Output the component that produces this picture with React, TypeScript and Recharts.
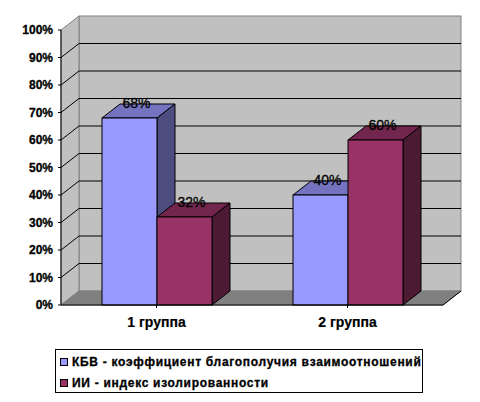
import { Bar, BarChart, Legend, LabelList, ReferenceArea, XAxis, YAxis } from 'recharts';

const categories = ['1 группа', '2 группа'];
const kbvValues = [68, 40];
const iiValues = [32, 60];
const yTicks = [0, 10, 20, 30, 40, 50, 60, 70, 80, 90, 100];

const seriesNames = ['КБВ - коэффициент благополучия взаимоотношений', 'ИИ - индекс изолированности'];

const data = categories.map((name, i) => ({ name, kbv: kbvValues[i], ii: iiValues[i] }));

const DX = 18;
const DY = 14;
const FONT = '"Liberation Sans", Arial, sans-serif';

// back wall, left wall and floor of the 3D box
const Walls = ({ x, y, width, height }: any) => {
  const bottom = y + height;
  const right = x + width;
  return (
    <g>
      <rect x={x + DX} y={y - DY} width={width} height={height} fill="#c0c0c0" stroke="#808080" />
      <polygon
        points={`${x},${y} ${x + DX},${y - DY} ${x + DX},${bottom - DY} ${x},${bottom}`}
        fill="#c0c0c0"
        stroke="#808080"
      />
      <polygon
        points={`${x},${bottom} ${x + DX},${bottom - DY} ${right + DX},${bottom - DY} ${right},${bottom}`}
        fill="#808080"
        stroke="#808080"
      />
      <line x1={right} y1={bottom} x2={right + DX} y2={bottom - DY} stroke="#000" />
    </g>
  );
};

// gridline at the bottom edge of a band, bent round the left wall
const GridBand = ({ x, y, width, height }: any) => {
  const gy = y + height;
  return (
    <g>
      <line x1={x} y1={gy} x2={x + DX} y2={gy - DY} stroke="#000" />
      <line x1={x + DX} y1={gy - DY} x2={x + width + DX} y2={gy - DY} stroke="#000" />
    </g>
  );
};

const box = (front: string, top: string, side: string) => ({ x, y, width, height }: any) => {
  const l = Math.floor(x);
  const r = Math.floor(x + width);
  const b = y + height;
  return (
    <g stroke="#000" strokeWidth={1}>
      <polygon points={`${l},${y} ${l + DX},${y - DY} ${r + DX},${y - DY} ${r},${y}`} fill={top} />
      <polygon points={`${r},${y} ${r + DX},${y - DY} ${r + DX},${b - DY} ${r},${b}`} fill={side} />
      <rect x={l} y={y} width={r - l} height={height} fill={front} />
    </g>
  );
};

const valueLabel = ({ x, y, width, value }: any) => (
  <text
    x={x + width / 2 + 7}
    y={y - 10}
    textAnchor="middle"
    fontFamily={FONT}
    fontSize={14}
    fill="#000"
    stroke="#000"
    strokeWidth={0.3}
  >
    {value}%
  </text>
);

const LegendBox = () => (
  <div
    style={{
      width: 366,
      height: 42,
      border: '1px solid #000',
      background: '#fff',
      fontFamily: FONT,
      fontWeight: 'bold',
      fontSize: 12,
      letterSpacing: 0.7,
      WebkitTextStroke: '0.3px #000',
      color: '#000',
      whiteSpace: 'nowrap',
    }}
  >
    {seriesNames.map((name, i) => (
      <div key={name} style={{ display: 'flex', alignItems: 'center', height: 21, paddingLeft: 4, marginTop: i === 0 ? 1 : 0 }}>
        <span
          style={{
            width: 6,
            height: 6,
            border: '1px solid #000',
            background: i === 0 ? '#9999ff' : '#993366',
            marginRight: 4,
          }}
        />
        {name}
      </div>
    ))}
  </div>
);

export default function App() {
  return (
    <div style={{ position: 'absolute', left: 0, top: 0, width: 480, height: 402 }}>
      <BarChart
        width={480}
        height={402}
        data={data}
        margin={{ top: 30, right: 37, bottom: 23, left: 0 }}
        barCategoryGap={41}
        barGap={0}
      >
        <ReferenceArea y1={0} y2={100} shape={Walls} />
        {yTicks.slice(1, -1).map((t) => (
          <ReferenceArea key={t} y1={t} y2={t + 10} shape={GridBand} />
        ))}
        <XAxis
          dataKey="name"
          axisLine={{ stroke: '#000' }}
          tickLine={{ stroke: '#000' }}
          tickSize={3}
          height={30}
          tickMargin={9}
          tick={{ fill: '#000', stroke: '#000', strokeWidth: 0.2, fontFamily: FONT, fontSize: 14, fontWeight: 'bold' }}
        />
        <YAxis
          width={61}
          domain={[0, 100]}
          ticks={yTicks}
          interval={0}
          tickFormatter={(v: number) => `${v}%`}
          axisLine={{ stroke: '#000' }}
          tickLine={{ stroke: '#000' }}
          tickSize={3}
          tickMargin={5}
          tick={{ fill: '#000', stroke: '#000', strokeWidth: 0.3, fontFamily: FONT, fontSize: 12, fontWeight: 'bold' }}
        />
        <Bar dataKey="kbv" name={seriesNames[0]} isAnimationActive={false} shape={box('#9999ff', '#7373bf', '#4d4d80')}>
          <LabelList dataKey="kbv" content={valueLabel} />
        </Bar>
        <Bar dataKey="ii" name={seriesNames[1]} isAnimationActive={false} shape={box('#993366', '#73264d', '#4d1a33')}>
          <LabelList dataKey="ii" content={valueLabel} />
        </Bar>
        <Legend content={LegendBox} wrapperStyle={{ left: 55, top: 349, width: 368, height: 44 }} />
      </BarChart>
    </div>
  );
}
